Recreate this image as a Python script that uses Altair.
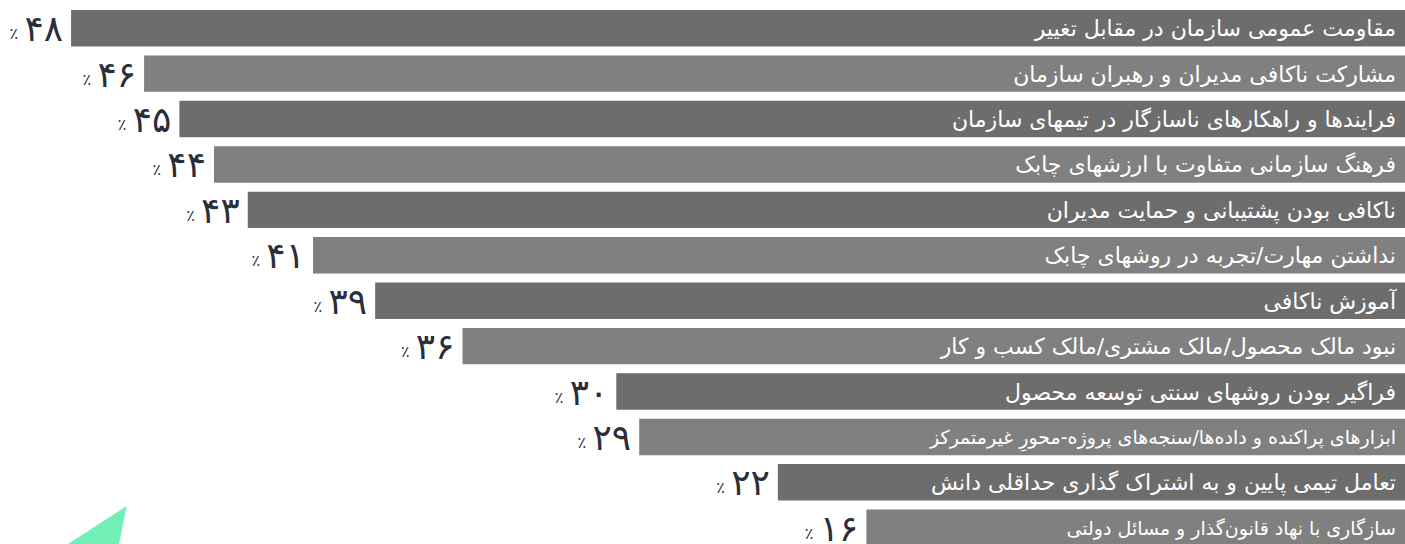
import altair as alt
import pandas as pd

# ---- data ----
categories = [
    "مقاومت عمومی سازمان در مقابل تغییر",
    "مشارکت ناکافی مدیران و رهبران سازمان",
    "فرایندها و راهکارهای ناسازگار در تیمهای سازمان",
    "فرهنگ سازمانی متفاوت با ارزشهای چابک",
    "ناکافی بودن پشتیبانی و حمایت مدیران",
    "نداشتن مهارت/تجربه در روشهای چابک",
    "آموزش ناکافی",
    "نبود مالک محصول/مالک مشتری/مالک کسب و کار",
    "فراگیر بودن روشهای سنتی توسعه محصول",
    "ابزارهای پراکنده و داده‌ها/سنجه‌های پروژه-محورِ غیرمتمرکز",
    "تعامل تیمی پایین و به اشتراک گذاری حداقلی دانش",
    "سازگاری با نهاد قانون‌گذار و مسائل دولتی",
]
values = [48, 46, 45, 44, 43, 41, 39, 36, 30, 29, 22, 16]
value_labels = ["۴۸", "۴۶", "۴۵", "۴۴", "۴۳", "۴۱", "۳۹", "۳۶", "۳۰", "۲۹", "۲۲", "۱۶"]
percent_sign = "٪"

df = pd.DataFrame({
    "category": categories,
    "value": values,
    "label": value_labels,
})
df["order"] = range(len(df))
df["shade"] = df["order"] % 2
df["pct"] = percent_sign

# rows whose captions use a more compact typeface in the reference
compact_rows = [categories[9], categories[11]]

# ---- styling ----
FONT = "DejaVu Sans"
DOMAIN_MIN = -33.63
DOMAIN_MAX = 49.87

xscale = alt.Scale(type="pow", exponent=2, domain=[DOMAIN_MIN, DOMAIN_MAX],
                   reverse=True, nice=False, zero=False)
yscale = alt.Scale(paddingInner=0.197, paddingOuter=0.11, align=1)

base = alt.Chart(df).encode(
    y=alt.Y("category:N", sort=categories, scale=yscale, axis=None),
)

bars = base.mark_bar().encode(
    x=alt.X("value:Q", scale=xscale, axis=None),
    x2=alt.datum(DOMAIN_MIN),
    color=alt.Color("shade:N", scale=alt.Scale(domain=[0, 1], range=["#6d6d6d", "#808080"]), legend=None),
)

compact = alt.FieldOneOfPredicate(field="category", oneOf=compact_rows)

cat_text = base.transform_filter(~compact).mark_text(
    align="right", baseline="middle", dx=-9, dy=1, font=FONT, fontSize=22, color="white"
).encode(
    x=alt.datum(DOMAIN_MIN, scale=xscale),
    text="category:N",
)

cat_text_compact = base.transform_filter(compact).mark_text(
    align="right", baseline="middle", dx=-9, dy=1, font=FONT, fontSize=19, color="white"
).encode(
    x=alt.datum(DOMAIN_MIN, scale=xscale),
    text="category:N",
)

digits = base.mark_text(
    align="right", baseline="alphabetic", dx=-8, dy=13, font=FONT, fontSize=36,
    color="#2b2d38"
).encode(
    x=alt.X("value:Q", scale=xscale),
    text="label:N",
)

pct = base.mark_text(
    align="right", baseline="alphabetic", dx=-53, dy=11, font=FONT, fontSize=16, color="#2b2d38"
).encode(
    x=alt.X("value:Q", scale=xscale),
    text="pct:N",
)

# decorative green triangle in the lower-left corner
tri = alt.Chart(pd.DataFrame({"k": [0]})).mark_point(
    shape="M -1.48 0.967 L 0.99 -0.633 L 0.667 0.967 Z",
    filled=True, opacity=1, color="#70efb6", strokeWidth=0,
).encode(
    x=alt.value(97), y=alt.value(525), size=alt.value(3600)
)

chart = alt.layer(tri, bars, cat_text, cat_text_compact, digits, pct).properties(
    width=1405, height=546,
    autosize=alt.AutoSizeParams(type="none"),
    padding=0,
    background="white",
).configure_view(stroke=None)

chart.save("out.html", embed_options={"renderer": "svg", "actions": False})
